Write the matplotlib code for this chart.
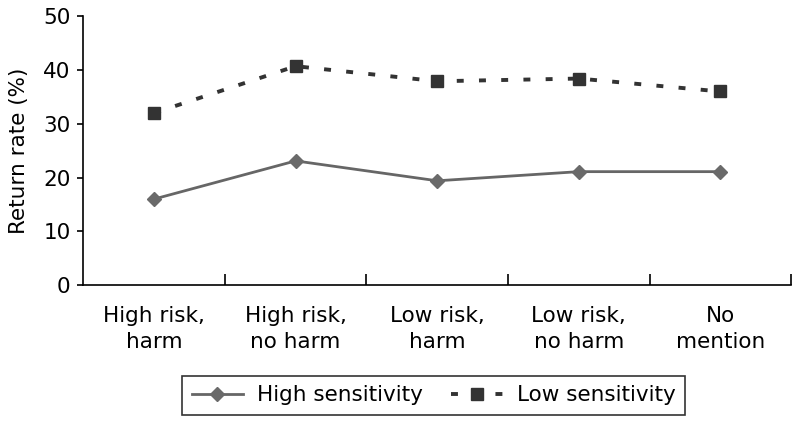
import matplotlib
matplotlib.use("Agg")
import matplotlib.pyplot as plt
from matplotlib.ticker import FixedLocator, NullFormatter

categories = ["High risk,\nharm", "High risk,\nno harm", "Low risk,\nharm", "Low risk,\nno harm", "No\nmention"]
high_sensitivity = [16, 23.1, 19.4, 21.1, 21.1]
low_sensitivity = [32, 40.7, 37.9, 38.4, 36.0]
yticks = [0, 10, 20, 30, 40, 50]

plt.rcParams['font.family'] = ['DejaVu Sans']
plt.rcParams['lines.scale_dashes'] = False

fig = plt.figure(figsize=(8, 4.25), dpi=100)
ax = fig.add_axes([0.104, 0.329, 0.885, 0.633])

x = list(range(len(categories)))
ax.plot(x, high_sensitivity, color='#666666', lw=2.0, marker='D', ms=7.5,
        mfc='#6a6a6a', mec='#6a6a6a', label='High sensitivity')
ax.plot(x, low_sensitivity, color='#333333', lw=2.8, dashes=(5, 11), marker='s', ms=9,
        mfc='#333333', mec='#333333', label='Low sensitivity')

ax.set_xlim(-0.5, len(categories) - 0.5)
ax.set_ylim(0, 50)
ax.set_yticks(yticks)
ax.set_xticks(x)
ax.set_xticklabels(categories, fontsize=15.5, linespacing=1.4)
ax.tick_params(axis='x', which='major', length=0, pad=15)
ax.xaxis.set_minor_locator(FixedLocator([i + 0.5 for i in range(len(categories))]))
ax.xaxis.set_minor_formatter(NullFormatter())
ax.tick_params(axis='x', which='minor', direction='in', length=8, width=1.2, color='black')
ax.tick_params(axis='y', direction='out', length=4, width=1.2, labelsize=15.5, pad=5)
for s in ['top', 'right']:
    ax.spines[s].set_visible(False)
for s in ['left', 'bottom']:
    ax.spines[s].set_linewidth(1.2)
ax.set_ylabel('Return rate (%)', fontsize=15.5, labelpad=10)

leg = fig.legend(loc='lower center', bbox_to_anchor=(0.542, 0.0235), ncol=2, fontsize=15.5,
                 frameon=True, fancybox=False, edgecolor='black', handlelength=2.4,
                 columnspacing=1.3, handletextpad=0.65, borderpad=0.45, borderaxespad=0)
leg.get_frame().set_linewidth(1.2)

fig.savefig('out.png', dpi=100)
